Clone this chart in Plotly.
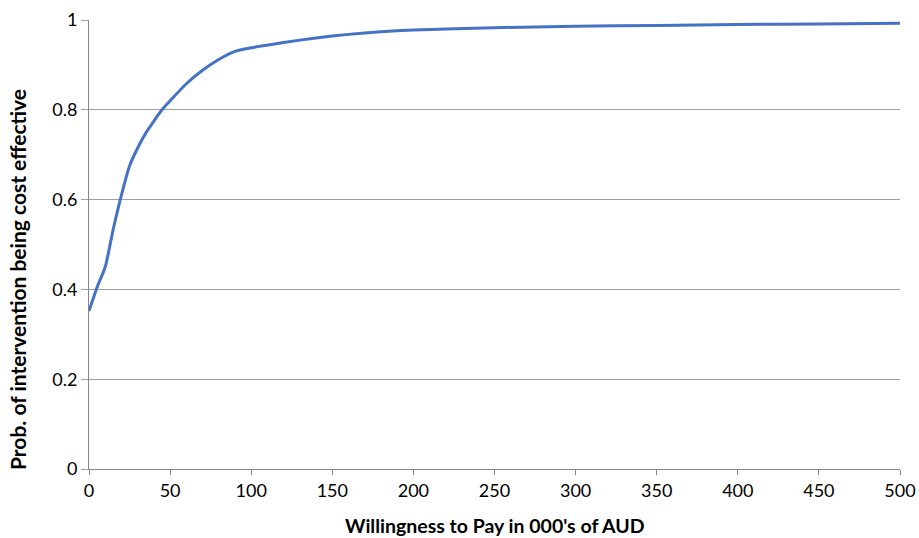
import plotly.graph_objects as go

wtp = [0, 5, 10, 15, 20, 25, 30, 35, 40, 45, 50, 60, 70, 80, 90, 100, 120, 140, 160, 180, 200, 250, 300, 350, 400, 450, 500]
prob = [0.352, 0.405, 0.45, 0.535, 0.61, 0.675, 0.715, 0.748, 0.775, 0.80, 0.82, 0.858, 0.888, 0.912, 0.930, 0.938,
        0.950, 0.960, 0.968, 0.974, 0.978, 0.983, 0.986, 0.988, 0.990, 0.991, 0.993]
x_ticks = list(range(0, 501, 50))
y_ticks = [0, 0.2, 0.4, 0.6, 0.8, 1]
y_tick_labels = ["0", "0.2", "0.4", "0.6", "0.8", "1"]
x_title = "Willingness to Pay in 000's of AUD"
y_title = "Prob. of intervention being cost effective"

fig = go.Figure()
fig.add_trace(go.Scatter(x=wtp, y=prob, mode="lines", line=dict(color="#4472C4", width=3, shape="spline", smoothing=0.6),
                         showlegend=False, hoverinfo="skip"))

font_family = "Lato, 'Open Sans', sans-serif"
fig.update_layout(
    width=919, height=538,
    margin=dict(l=89, r=19, t=20, b=69, autoexpand=False),
    paper_bgcolor="white", plot_bgcolor="white",
    font=dict(family=font_family, size=18, color="black"),
    xaxis=dict(
        range=[0, 500], tickvals=x_ticks, showgrid=False, zeroline=False,
        showline=True, linecolor="#868686", linewidth=1,
        ticks="outside", ticklen=5, tickcolor="#868686", ticklabeloverflow="allow", automargin=False,
        tickfont=dict(size=18),
    ),
    yaxis=dict(
        range=[0, 1], tickvals=y_ticks, ticktext=y_tick_labels, showgrid=True, gridcolor="#A0A0A0", gridwidth=1,
        zeroline=False, showline=True, linecolor="#868686", linewidth=1, automargin=False,
        ticks="outside", ticklen=7, tickcolor="#A0A0A0",
        tickfont=dict(size=18),
    ),
    annotations=[
        dict(text="<b>" + x_title + "</b>", xref="paper", yref="paper", x=0.5, y=-0.125,
             xanchor="center", yanchor="middle", showarrow=False, font=dict(size=19.5)),
        dict(text="<b>" + y_title + "</b>", xref="paper", yref="paper", x=-0.0875, y=0.421,
             xanchor="center", yanchor="middle", showarrow=False, textangle=-90, font=dict(size=21)),
    ],
)

fig.write_html("out.html", config={"displayModeBar": False},
               post_script="document.body.style.margin='0';document.body.style.overflow='hidden';")
